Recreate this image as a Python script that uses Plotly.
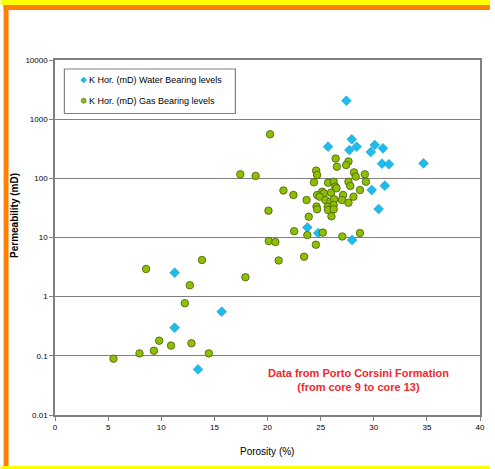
import plotly.graph_objects as go

# ---- data ----
water_porosity = [27.42, 27.93, 25.70, 27.71, 28.39, 30.09, 29.72, 30.87, 30.78, 31.43,
                  34.68, 29.81, 31.04, 30.46, 23.75, 24.77, 27.96, 11.26, 15.69, 11.26, 13.46]
water_perm = [2050, 457, 343, 301, 343, 366, 279, 322, 177, 173,
              179, 63.5, 75, 30.3, 14.8, 11.9, 9.08, 2.54, 0.557, 0.299, 0.059]

gas_porosity = [20.24, 26.41, 26.53, 27.62, 27.40, 24.58, 24.67, 28.14, 28.30, 29.16,
                29.26, 17.44, 18.88, 24.37, 25.70, 26.23, 27.62, 27.79, 28.70, 26.38,
                21.50, 22.44, 25.14, 25.30, 25.98, 26.49, 24.67, 24.91, 27.11, 28.09,
                27.00, 27.62, 25.45, 25.91, 26.28, 25.67, 26.23, 24.61, 24.67, 25.70,
                26.23, 23.68, 23.88, 26.02, 20.09, 22.51, 23.75, 25.20, 27.04, 28.70,
                20.12, 20.74, 24.55, 23.44, 21.05, 13.83, 8.57, 17.92, 12.69, 12.22,
                9.80, 12.84, 10.92, 9.31, 7.95, 14.48, 5.50]
gas_perm = [555, 216, 157, 193, 168, 135, 114, 126, 107, 117,
            87.7, 117, 110, 85.7, 84.4, 87.7, 87.7, 74.3, 63.5, 72.3,
            62.3, 52.3, 59.4, 55.8, 57.2, 67.9, 52.3, 49.0, 52.3, 49.0,
            43.0, 38.7, 43.0, 40.3, 44.2, 33.2, 35.4, 33.4, 30.0, 29.2,
            30.0, 43.0, 22.5, 22.8, 28.4, 12.8, 11.0, 12.1, 10.4, 11.9,
            8.73, 8.39, 7.56, 4.74, 4.09, 4.17, 2.94, 2.13, 1.56, 0.776,
            0.180, 0.163, 0.149, 0.122, 0.110, 0.110, 0.0895]

x_ticks = [0, 5, 10, 15, 20, 25, 30, 35, 40]
y_ticks = [0.01, 0.1, 1, 10, 100, 1000, 10000]
y_ticktext = ["0.01", "0.1", "1", "10", "100", "1000", "10000"]

legend_labels = ["K Hor. (mD) Water Bearing levels", "K Hor. (mD) Gas Bearing levels"]
note_text = "Data from Porto Corsini Formation<br>(from core 9 to core 13)"

BLUE = "#1EBCEB"
BLUE_LINE = "#1A9AC8"
GREEN = "#8DC000"
GREEN_LINE = "#4A5A10"
FONT = "Liberation Sans, Arial, sans-serif"

W, H = 495, 469
L, R, T, B = 55, 10, 60, 54
PW, PH = W - L - R, H - T - B


def px(x):
    return (x - L) / PW


def py(y):
    return (H - B - y) / PH


fig = go.Figure()
fig.add_trace(go.Scatter(
    x=water_porosity, y=water_perm, mode="markers", name=legend_labels[0],
    marker=dict(symbol="diamond", size=7.5, color=BLUE, line=dict(color=BLUE_LINE, width=0.6)),
    showlegend=False))
fig.add_trace(go.Scatter(
    x=gas_porosity, y=gas_perm, mode="markers", name=legend_labels[1],
    marker=dict(symbol="circle", size=7.5, color=GREEN, line=dict(color=GREEN_LINE, width=0.8)),
    showlegend=False))

shapes = []
# frame decorations (yellow strips and orange border)
shapes.append(dict(type="rect", xref="paper", yref="paper", x0=px(0), x1=px(495), y0=py(0), y1=py(5),
                   fillcolor="#FFFF00", line=dict(width=0), layer="below"))
shapes.append(dict(type="rect", xref="paper", yref="paper", x0=px(3), x1=px(495), y0=py(5), y1=py(10),
                   fillcolor="#FF7F00", line=dict(width=0), layer="below"))
shapes.append(dict(type="rect", xref="paper", yref="paper", x0=px(3), x1=px(8), y0=py(5), y1=py(466),
                   fillcolor="#FF7F00", line=dict(width=0), layer="below"))
shapes.append(dict(type="rect", xref="paper", yref="paper", x0=px(0), x1=px(495), y0=py(466), y1=py(469),
                   fillcolor="#FFFF00", line=dict(width=0), layer="below"))
# legend box
shapes.append(dict(type="rect", xref="paper", yref="paper", x0=px(64.5), x1=px(237.5), y0=py(69), y1=py(113.5),
                   fillcolor="white", line=dict(color="#808080", width=1.2), layer="above"))
# legend symbols
shapes.append(dict(type="path", xref="paper", yref="paper",
                   path="M {a},{b} L {c},{d} L {a},{e} L {f},{d} Z".format(
                       a=px(84), b=py(77), c=px(87), d=py(80), e=py(83), f=px(81)),
                   fillcolor=BLUE, line=dict(color=BLUE_LINE, width=0.5), layer="above"))
shapes.append(dict(type="circle", xref="paper", yref="paper", x0=px(81.5), x1=px(86.5), y0=py(98.2), y1=py(103.2),
                   fillcolor=GREEN, line=dict(color=GREEN_LINE, width=0.6), layer="above"))

annotations = []
for i, (lab, yy) in enumerate(zip(legend_labels, [80, 100.7])):
    annotations.append(dict(text=lab, xref="paper", yref="paper", x=px(87), y=py(yy),
                            xanchor="left", yanchor="middle", showarrow=False,
                            font=dict(family=FONT, size=9, color="#000000")))
annotations.append(dict(text="<b>" + note_text.replace("<br>", "</b><br><b>") + "</b>",
                        xref="paper", yref="paper", x=px(362), y=py(379.5),
                        xanchor="center", yanchor="middle", showarrow=False, align="center",
                        font=dict(family=FONT, size=11, color="#F0282D")))
annotations.append(dict(text="<b>Permeability (mD)</b>", xref="paper", yref="paper", x=px(14), y=py(215.5),
                        xanchor="center", yanchor="middle", textangle=-90, showarrow=False,
                        font=dict(family=FONT, size=10, color="#000000")))
annotations.append(dict(text="Porosity (%)", xref="paper", yref="paper", x=px(269.5), y=py(451.5),
                        xanchor="center", yanchor="middle", showarrow=False,
                        font=dict(family=FONT, size=10, color="#000000")))

fig.update_layout(
    width=W, height=H,
    margin=dict(l=L, r=R, t=T, b=B),
    paper_bgcolor="white", plot_bgcolor="white",
    shapes=shapes, annotations=annotations,
    showlegend=False,
    font=dict(family=FONT, size=8, color="#000000"),
)
fig.update_xaxes(
    range=[0, 40], tickmode="array", tickvals=x_ticks, ticks="outside", ticklen=4,
    tickcolor="#808080", showgrid=False, zeroline=False,
    showline=True, linecolor="#808080", linewidth=1.5, mirror=True,
    tickfont=dict(family=FONT, size=8, color="#000000"),
)
fig.update_yaxes(
    type="log", range=[-2, 4], tickmode="array", tickvals=y_ticks, ticktext=y_ticktext,
    ticks="outside", ticklen=4, tickcolor="#808080",
    showgrid=True, gridcolor="#808080", gridwidth=1.4, zeroline=False,
    showline=True, linecolor="#808080", linewidth=1.5, mirror=True,
    tickfont=dict(family=FONT, size=8, color="#000000"),
)

fig.write_html("out.html")
